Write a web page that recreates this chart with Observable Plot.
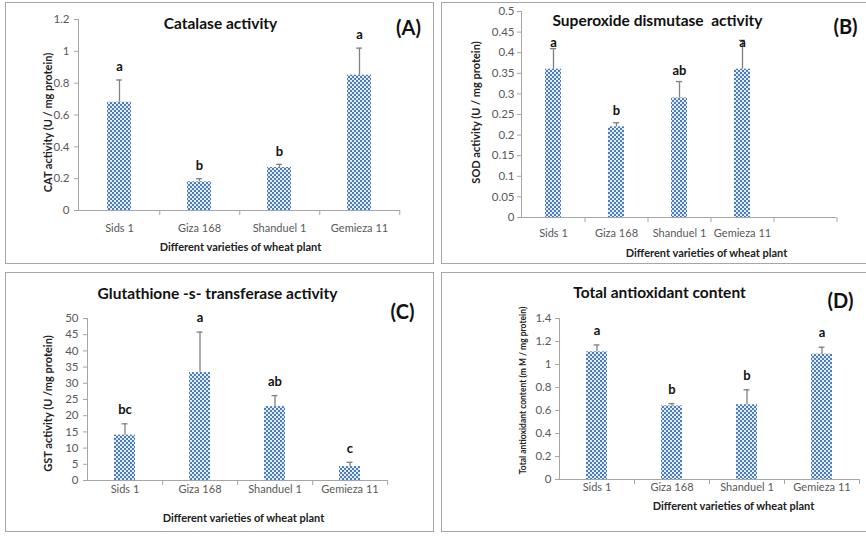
<!DOCTYPE html>
<html><head><meta charset="utf-8">
<script src="https://cdn.jsdelivr.net/npm/d3@7"></script>
<script src="https://cdn.jsdelivr.net/npm/@observablehq/plot@0.6"></script>
<style>
body{margin:0;background:#fff;}
#page{position:relative;width:866px;height:536px;overflow:hidden;background:#fff;font-family:Lato,sans-serif;}
.panel{position:absolute;border:1.5px solid #a6a6a6;box-sizing:border-box;}
#page svg.plot-layer{position:absolute;left:0;top:0;}
</style></head><body>
<svg width="0" height="0" style="position:absolute"><defs>
<pattern id="chk" width="4" height="4" patternUnits="userSpaceOnUse">
<rect width="4" height="4" fill="#e4ecf7"/>
<rect x="0" y="0" width="2" height="2" fill="#4a7ebb"/>
<rect x="2" y="2" width="2" height="2" fill="#4a7ebb"/>
</pattern></defs></svg>
<div id="page">
<div class="panel" style="left:5px;top:2px;width:429px;height:262px"></div>
<div class="panel" style="left:441px;top:2px;width:430px;height:262px"></div>
<div class="panel" style="left:5px;top:272px;width:429px;height:260px"></div>
<div class="panel" style="left:441px;top:272px;width:430px;height:260px"></div>
</div>
<script>
const varieties = ["Sids 1", "Giza 168", "Shanduel 1", "Gemieza 11"];

// (A) Catalase
const catMean = [0.68, 0.18, 0.27, 0.85];
const catTop = [0.82, 0.20, 0.29, 1.02];
const catLetters = ["a", "b", "b", "a"];
const catTicks = [0, 0.2, 0.4, 0.6, 0.8, 1, 1.2];

// (B) SOD
const sodMean = [0.36, 0.22, 0.29, 0.36];
const sodTop = [0.41, 0.23, 0.33, 0.43];
const sodLetters = ["a", "b", "ab", "a"];
const sodLetterY = [0.425, 0.26, 0.355, 0.425];
const sodTicks = [0, 0.05, 0.1, 0.15, 0.2, 0.25, 0.3, 0.35, 0.4, 0.45, 0.5];

// (C) GST
const gstMean = [14.0, 33.3, 22.8, 4.3];
const gstTop = [17.5, 45.8, 26.2, 5.6];
const gstLetters = ["bc", "a", "ab", "c"];
const gstTicks = [0, 5, 10, 15, 20, 25, 30, 35, 40, 45, 50];

// (D) Total antioxidant
const taMean = [1.11, 0.64, 0.65, 1.09];
const taTop = [1.17, 0.66, 0.78, 1.15];
const taLetters = ["a", "b", "b", "a"];
const taTicks = [0, 0.2, 0.4, 0.6, 0.8, 1, 1.2, 1.4];

const xTitle = "Different varieties of wheat plant";
const W = 866, H = 536;
const AX = "#a6a6a6", TXT = "#595959", ERR = "#808080";
const fmt = d => String(+d.toFixed(3));

function panel(cfg) {
  const [x0, x1, y0, y1] = cfg.frame;
  const dom = cfg.domain;
  const step = (x1 - x0) / dom.length;
  const bw = step * (1 - cfg.pad);
  const capInset = bw / 2 - 3;
  const data = varieties.map((v, i) => ({variety: v, value: cfg.mean[i], top: cfg.top[i], letter: cfg.letters[i],
    ly: cfg.letterY ? cfg.letterY[i] : cfg.top[i]}));
  const at = (X, Y) => ({frameAnchor: "top-left", dx: X - x0, dy: Y - y0, lineAnchor: "middle", textAnchor: "middle"});
  const svg = Plot.plot({
    width: W, height: H,
    marginLeft: x0, marginRight: W - x1, marginTop: y0, marginBottom: H - y1,
    style: {background: "transparent", fontFamily: "Lato, sans-serif", overflow: "visible"},
    x: {type: "band", domain: dom, paddingInner: cfg.pad, paddingOuter: cfg.pad / 2},
    y: {domain: cfg.yDomain},
    marks: [
      Plot.barY(data, {x: "variety", y: "value", fill: "url(#chk)"}),
      Plot.ruleX(data, {x: "variety", y1: "value", y2: "top", stroke: ERR, strokeWidth: 1.3}),
      Plot.tickY(data, {x: "variety", y: "top", stroke: ERR, strokeWidth: 1.3, insetLeft: capInset, insetRight: capInset}),
      Plot.text(data, {x: "variety", y: "ly", text: "letter", dy: -cfg.letterGap, fontWeight: "bold", fontSize: 13, fill: "#111", lineAnchor: "middle"}),
      Plot.ruleY([0], {stroke: AX, strokeWidth: 1}),
      Plot.frame({anchor: "left", stroke: AX, strokeWidth: 1}),
      Plot.axisY({ticks: cfg.ticks, tickFormat: fmt, tickSize: 4, tickPadding: cfg.yPad, stroke: AX, fill: TXT, fontSize: 11.5, label: null}),
      Plot.axisX({tickSize: 5, tickFormat: () => "", dx: step / 2, stroke: AX, label: null}),
      Plot.axisX({tickSize: 0, tickPadding: cfg.xPad, tickFormat: d => d, fill: TXT, fontSize: 11, label: null}),
      Plot.text([cfg.title], {...at(...cfg.titlePos), fontWeight: "bold", fontSize: 15.5, fill: "#111"}),
      Plot.text([cfg.tag], {...at(...cfg.tagPos), fontWeight: "bold", fontSize: 20, fill: "#111"}),
      Plot.text([xTitle], {...at(...cfg.xTitlePos), fontWeight: "bold", fontSize: 11, fill: "#222"}),
      Plot.text([cfg.yTitle], {...at(...cfg.yTitlePos), rotate: -90, fontWeight: "bold", fontSize: cfg.yTitleSize, fill: "#222"})
    ]
  });
  svg.classList.add("plot-layer");
  document.getElementById("page").appendChild(svg);
}

panel({frame: [78, 400, 19, 210], domain: varieties, pad: 0.70, mean: catMean, top: catTop, letters: catLetters,
  yDomain: [0, 1.2], ticks: catTicks, yPad: 5, xPad: 14, letterGap: 13,
  title: "Catalase activity", titlePos: [220, 24], tag: "(A)", tagPos: [408, 28],
  xTitlePos: [240, 247], yTitle: "CAT activity (U / mg protein)", yTitlePos: [48, 122], yTitleSize: 11});

panel({frame: [521, 836, 11, 217], domain: [...varieties, ""], pad: 0.75, mean: sodMean, top: sodTop, letters: sodLetters,
  letterY: sodLetterY,
  yDomain: [0, 0.5], ticks: sodTicks, yPad: 3, xPad: 12, letterGap: 0,
  title: "Superoxide dismutase  activity", titlePos: [657, 21], tag: "(B)", tagPos: [845, 27],
  xTitlePos: [706, 253], yTitle: "SOD activity (U / mg protein)", yTitlePos: [476, 112], yTitleSize: 11});

panel({frame: [87, 388, 318, 480], domain: varieties, pad: 0.72, mean: gstMean, top: gstTop, letters: gstLetters,
  yDomain: [0, 50], ticks: gstTicks, yPad: 5, xPad: 5, letterGap: 14,
  title: "Glutathione -s- transferase activity", titlePos: [217, 294], tag: "(C)", tagPos: [402, 312],
  xTitlePos: [243, 518], yTitle: "GST activity (U /mg protein)", yTitlePos: [48, 403], yTitleSize: 11});

panel({frame: [559, 859, 318, 479], domain: varieties, pad: 0.72, mean: taMean, top: taTop, letters: taLetters,
  yDomain: [0, 1.4], ticks: taTicks, yPad: 4, xPad: 4, letterGap: 14,
  title: "Total antioxidant content", titlePos: [659, 293], tag: "(D)", tagPos: [840, 301],
  xTitlePos: [733, 506], yTitle: "Total antioxidant content (m M / mg protein)", yTitlePos: [523, 390], yTitleSize: 8.5});
</script>
</body></html>
